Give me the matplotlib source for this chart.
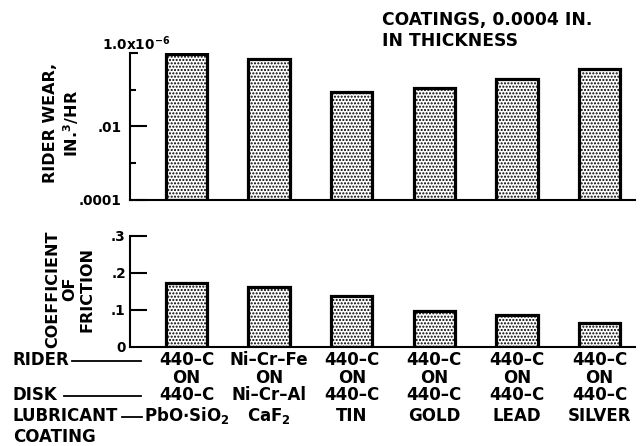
import matplotlib.pyplot as plt
from matplotlib.lines import Line2D
from matplotlib.ticker import FixedLocator, NullFormatter
from matplotlib.transforms import blended_transform_factory
import numpy as np

# Rider / disk / coating combinations, left to right
RIDERS = ["440–C", "Ni–Cr–Fe", "440–C", "440–C", "440–C", "440–C"]
DISKS = ["440–C", "Ni–Cr–Al", "440–C", "440–C", "440–C", "440–C"]
COATINGS = ["PbO$\\cdot$SiO$_2$", "CaF$_2$", "TIN", "GOLD", "LEAD", "SILVER"]

# Rider wear, in the axis units (top of the scale = 1.0x10^-6)
WEAR = [0.95, 0.68, 0.085, 0.11, 0.195, 0.36]
FRICTION = [0.171, 0.162, 0.136, 0.097, 0.086, 0.064]

WEAR_TICKS = [1e-4, 1e-2, 1.0]
WEAR_TICK_LABELS = [".0001", ".01", ""]
FRICTION_TICKS = [0, 0.1, 0.2, 0.3]
FRICTION_TICK_LABELS = ["0", ".1", ".2", ".3"]

W, H = 643, 446
plt.rcParams["font.family"] = "DejaVu Sans"
plt.rcParams["font.weight"] = "bold"
plt.rcParams["mathtext.fontset"] = "custom"
plt.rcParams["mathtext.rm"] = "DejaVu Sans:bold"
plt.rcParams["mathtext.it"] = "DejaVu Sans:bold"
plt.rcParams["mathtext.bf"] = "DejaVu Sans:bold"
plt.rcParams["hatch.linewidth"] = 1.0

fig = plt.figure(figsize=(W / 100, H / 100), dpi=100)


def px_box(x0, y0, x1, y1):
    # pixel box (top-left origin) -> figure fraction [left, bottom, width, height]
    return [x0 / W, 1 - y1 / H, (x1 - x0) / W, (y1 - y0) / H]


ax_wear = fig.add_axes(px_box(130, 53, 635, 200))
ax_fric = fig.add_axes(px_box(130, 235.5, 635, 346.7))

x = np.arange(len(WEAR))
bar_kw = dict(width=0.5, facecolor="white", edgecolor="black", linewidth=2.3, hatch=".....")

tick_fs = 9.8
for ax in (ax_wear, ax_fric):
    for side in ("top", "right"):
        ax.spines[side].set_visible(False)
    for side in ("left", "bottom"):
        ax.spines[side].set_linewidth(1.5)
    ax.set_xlim(-0.684, 5.43)
    ax.set_xticks([])
    ax.tick_params(axis="y", direction="in", length=12, width=1.5, labelsize=tick_fs, pad=6)

# upper panel: wear on a log scale
ax_wear.bar(x, WEAR, bottom=1e-4, **bar_kw)
ax_wear.set_yscale("log")
ax_wear.set_ylim(1e-4, 1.0)
ax_wear.set_yticks(WEAR_TICKS)
ax_wear.set_yticklabels(WEAR_TICK_LABELS)
ax_wear.yaxis.set_minor_locator(FixedLocator([1e-3, 1e-1]))
ax_wear.yaxis.set_minor_formatter(NullFormatter())
ax_wear.tick_params(axis="y", which="minor", direction="in", length=4, width=1.5)
ax_wear.yaxis.get_major_ticks()[2].tick1line.set_markersize(6)
ax_wear.text(-0.055, 1.0, "1.0x10$^{-6}$", transform=ax_wear.transAxes,
             ha="left", va="bottom", fontsize=tick_fs)

# lower panel: friction coefficient
ax_fric.bar(x, FRICTION, **bar_kw)
ax_fric.set_ylim(0, 0.3)
ax_fric.set_yticks(FRICTION_TICKS)
ax_fric.set_yticklabels(FRICTION_TICK_LABELS)
ax_fric.tick_params(axis="y", pad=3)
ax_fric.yaxis.get_major_ticks()[0].tick1line.set_markersize(0)

axis_fs = 11.5
fig.text(62 / W, 1 - 123 / H, "RIDER WEAR,\nIN.$^{3}$/HR", rotation=90,
         ha="center", va="center", multialignment="center", fontsize=axis_fs)
fig.text(70 / W, 1 - 289 / H, "COEFFICIENT\nOF\nFRICTION", rotation=90,
         ha="center", va="center", multialignment="center", fontsize=axis_fs)

fig.text(382 / W, 1 - 11 / H, "COATINGS, 0.0004 IN.\nIN THICKNESS",
         ha="left", va="top", fontsize=12.3)

# combination labels under each bar
lab_fs = 12
tr = blended_transform_factory(ax_fric.transData, fig.transFigure)
rows = [(RIDERS, 360), (["ON"] * len(RIDERS), 378), (DISKS, 395), (COATINGS, 416)]
for labels, ypx in rows:
    for xi, lab in zip(x, labels):
        ax_fric.text(xi, 1 - ypx / H, lab, transform=tr, ha="center", va="center",
                     fontsize=lab_fs)

for name, ypx, x_line in [("RIDER", 360, (72, 141)), ("DISK", 395, (64, 141)),
                          ("LUBRICANT", 416, (122, 142))]:
    fig.text(13 / W, 1 - ypx / H, name, ha="left", va="center", fontsize=lab_fs)
    fig.add_artist(Line2D([x_line[0] / W, x_line[1] / W], [1 - (ypx + 1) / H] * 2,
                          color="black", linewidth=1.3, transform=fig.transFigure))
fig.text(13 / W, 1 - 437 / H, "COATING", ha="left", va="center", fontsize=lab_fs)

fig.savefig("out.png", dpi=100)
